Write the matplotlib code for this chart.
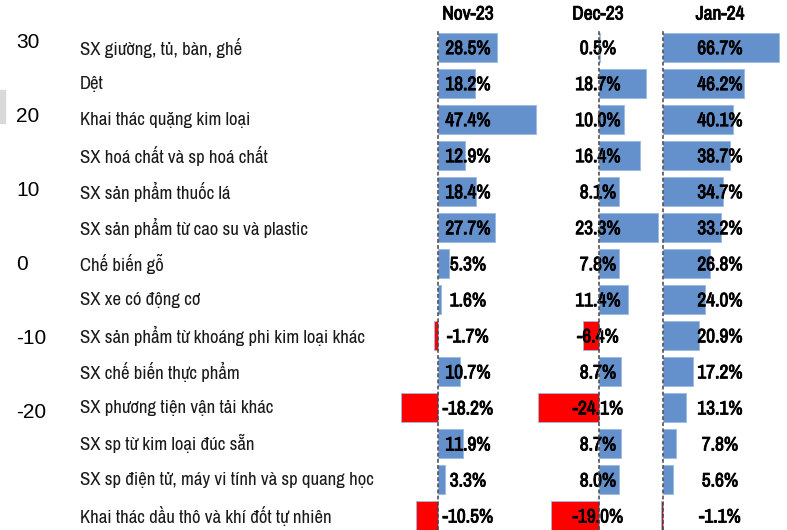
import matplotlib
matplotlib.use("Agg")
import matplotlib.pyplot as plt
import matplotlib.transforms as mtransforms
import matplotlib.patheffects as pe

# dữ liệu
nganh = [
    "SX giường, tủ, bàn, ghế",
    "Dệt",
    "Khai thác quặng kim loại",
    "SX hoá chất và sp hoá chất",
    "SX sản phẩm thuốc lá",
    "SX sản phẩm từ cao su và plastic",
    "Chế biến gỗ",
    "SX xe có động cơ",
    "SX sản phẩm từ khoáng phi kim loại khác",
    "SX chế biến thực phẩm",
    "SX phương tiện vận tải khác",
    "SX sp từ kim loại đúc sẵn",
    "SX sp điện tử, máy vi tính và sp quang học",
    "Khai thác dầu thô và khí đốt tự nhiên",
]
thang = ["Nov-23", "Dec-23", "Jan-24"]
nov23 = [28.5, 18.2, 47.4, 12.9, 18.4, 27.7, 5.3, 1.6, -1.7, 10.7, -18.2, 11.9, 3.3, -10.5]
dec23 = [0.5, 18.7, 10.0, 16.4, 8.1, 23.3, 7.8, 11.4, -6.4, 8.7, -24.1, 8.7, 8.0, -19.0]
jan24 = [66.7, 46.2, 40.1, 38.7, 34.7, 33.2, 26.8, 24.0, 20.9, 17.2, 13.1, 7.8, 5.6, -1.1]
truc_trai = [30, 20, 10, 0, -10, -20]

W, H = 787, 530
fig = plt.figure(figsize=(W / 100, H / 100), dpi=100)

narrow = ["Archivo Narrow", "Liberation Sans", "DejaVu Sans"]
dam = [pe.withStroke(linewidth=0.6, foreground="black")]  # chữ đậm giả

def px_ax(x0, x1, y0, y1):
    return fig.add_axes([x0 / W, 1 - y1 / H, (x1 - x0) / W, (y1 - y0) / H])

# trục giả bên trái
axl = px_ax(40, 45, 4, 447)
axl.set_ylim(-25, 35)
axl.set_yticks(truc_trai)
axl.set_yticklabels([str(v) for v in truc_trai], fontsize=15,
                    family=["Liberation Sans", "DejaVu Sans"], ha="left")
axl.tick_params(axis="y", length=0, pad=17)
axl.set_xticks([])
for s in axl.spines.values():
    s.set_visible(False)
axl.patch.set_alpha(0)

# ô xám nhỏ
fig.patches.append(plt.Rectangle((0, 1 - 123 / H), 5 / W, 33 / H,
                                 transform=fig.transFigure, color="#d9d9d9"))

# bảng cột
row_top = 47.5
row_step = 36.03
y_top_px, y_bot_px = 29, 530
ylim = ((y_bot_px - row_top) / row_step, (y_top_px - row_top) / row_step)

panels = [
    (nov23, 438.0, 2.06, 396, 540, 468),
    (dec23, 599.0, 2.52, 535, 660, 598),
    (jan24, 662.7, 1.75, 660, 785, 720),
]
rows = list(range(len(nganh)))
axes = []
for (vals, zero, scale, x0, x1, xc), ten in zip(panels, thang):
    ax = px_ax(x0, x1, y_top_px, y_bot_px)
    ax.set_xlim((x0 - zero) / scale, (x1 - zero) / scale)
    ax.set_ylim(*ylim)
    mau = ["#6490CC" if v >= 0 else "#FF0000" for v in vals]
    ax.barh(rows, vals, height=0.8, color=mau, edgecolor="#9DB9E0", linewidth=0.6, zorder=2)
    ax.axvline(0, color="#444444", lw=1.1, ls=(0, (2.5, 1.5)), zorder=4)
    lx = (xc - zero) / scale
    for r, v in zip(rows, vals):
        ax.text(lx, r + 0.03, f"{v:.1f}%", ha="center", va="center", fontsize=14,
                family=narrow, color="black", zorder=3, path_effects=dam)
    tr = mtransforms.blended_transform_factory(ax.transData, fig.transFigure)
    ax.text(lx, 1 - 14 / H, ten, transform=tr, ha="center", va="center",
            fontsize=14, family=narrow, path_effects=dam)
    ax.axis("off")
    axes.append(ax)

# nhãn ngành
tr = mtransforms.blended_transform_factory(fig.transFigure, axes[0].transData)
for r, t in zip(rows, nganh):
    axes[0].text(80 / W, r, t, transform=tr, ha="left", va="center",
                 fontsize=13.5, family=narrow, color="#1a1a1a", clip_on=False)

fig.savefig("out.png", dpi=100)
